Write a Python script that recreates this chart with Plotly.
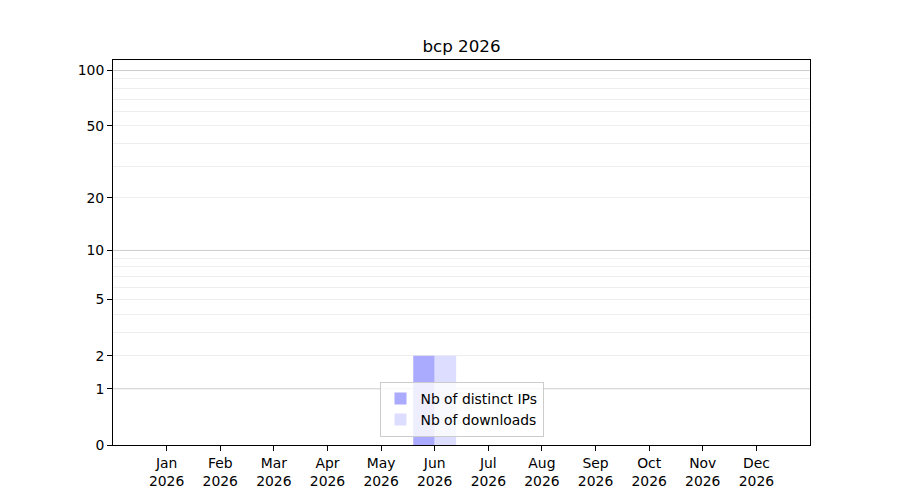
import numpy as np
import plotly.graph_objects as go

# monthly stats for the package
months = ["Jan", "Feb", "Mar", "Apr", "May", "Jun",
          "Jul", "Aug", "Sep", "Oct", "Nov", "Dec"]
year = 2026
distinct_ips = [0, 0, 0, 0, 0, 2, 0, 0, 0, 0, 0, 0]
downloads = [0, 0, 0, 0, 0, 2, 0, 0, 0, 0, 0, 0]

y_ticks = [0, 1, 2, 5, 10, 20, 50, 100]
y_major_grid = [1, 10, 100]
y_minor_grid = [2, 3, 4, 5, 6, 7, 8, 9, 20, 30, 40, 50, 60, 70, 80, 90]
y_max = 114


def tr(v):
    # log(1 + y) scale
    return np.log10(np.asarray(v, dtype=float) + 1)


idx = np.arange(len(months))
font = "DejaVu Sans"

fig = go.Figure()
fig.add_trace(go.Bar(x=idx, y=tr(distinct_ips), name="Nb of distinct IPs",
                     width=0.4, offset=-0.4,
                     marker=dict(color="#aaaaff", line=dict(width=0))))
fig.add_trace(go.Bar(x=idx, y=tr(downloads), name="Nb of downloads",
                     width=0.4, offset=0,
                     marker=dict(color="#ddddff", line=dict(width=0))))

# darker grid at decades
for v in y_major_grid:
    fig.add_shape(type="line", xref="paper", x0=0, x1=1, yref="y",
                  y0=float(tr(v)), y1=float(tr(v)),
                  line=dict(color="#cccccc", width=1), layer="below")

# the page body adds 8px, margins allow for it
fig.update_layout(
    width=900, height=500,
    paper_bgcolor="white", plot_bgcolor="white",
    margin=dict(l=105, r=98, t=52, b=63),
    title=dict(text="bcp %d" % year, x=453.5 / 900, xanchor="center",
               y=1 - 38 / 500, yanchor="middle",
               font=dict(family=font, size=16.7, color="black")),
    font=dict(family=font, size=13.9, color="black"),
    barmode="overlay",
    showlegend=True,
    legend=dict(x=0.5, xanchor="center", y=0.021, yanchor="bottom",
                bgcolor="rgba(255,255,255,0.8)", bordercolor="#cccccc",
                borderwidth=1, font=dict(family=font, size=13.9),
                tracegroupgap=0),
    xaxis=dict(range=[-1, 12], tickmode="array", tickvals=idx,
               ticktext=["%s<br>%d" % (m, year) for m in months],
               showgrid=False, zeroline=False, ticks="outside", ticklen=5,
               tickcolor="black", showline=True, mirror=True,
               linecolor="black", linewidth=1),
    yaxis=dict(range=[0, float(tr(y_max))], tickmode="array",
               tickvals=tr(y_ticks), ticktext=[str(v) for v in y_ticks],
               showgrid=False, zeroline=False, ticks="outside", ticklen=5,
               tickcolor="black", showline=True, mirror=True,
               linecolor="black", linewidth=1,
               minor=dict(tickmode="array", tickvals=tr(y_minor_grid),
                          showgrid=True, gridcolor="#eeeeee", gridwidth=1,
                          ticks="")),
)

fig.write_html("out.html")
